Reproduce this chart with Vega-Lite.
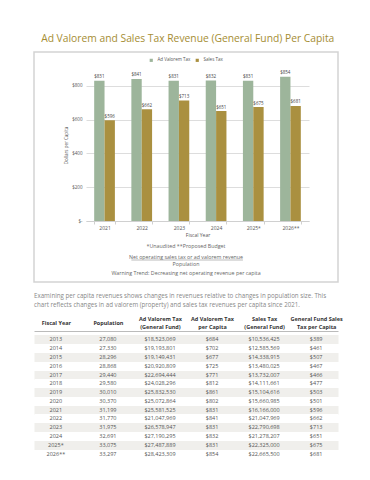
{
  "$schema": "https://vega.github.io/schema/vega-lite/v6.json",
  "padding": {"top": 33, "left": 33, "right": 33, "bottom": 5},
  "background": "white",
  "title": {"text": "Ad Valorem and Sales Tax Revenue (General Fund) Per Capita", "anchor": "middle", "fontSize": 10.3, "fontWeight": "normal", "color": "#a58d33", "offset": 7},
  "spacing": 10,
  "vconcat": [
    {
      "width": 304,
      "height": 230,
      "view": {"stroke": "#d3d3d3", "strokeWidth": 1.5},
      "layer": [
        {
          "data": {"values": [
            {"year": "2021", "tax": "Ad Valorem Tax", "value": 831},
            {"year": "2021", "tax": "Sales Tax", "value": 596},
            {"year": "2022", "tax": "Ad Valorem Tax", "value": 841},
            {"year": "2022", "tax": "Sales Tax", "value": 662},
            {"year": "2023", "tax": "Ad Valorem Tax", "value": 831},
            {"year": "2023", "tax": "Sales Tax", "value": 713},
            {"year": "2024", "tax": "Ad Valorem Tax", "value": 832},
            {"year": "2024", "tax": "Sales Tax", "value": 651},
            {"year": "2025*", "tax": "Ad Valorem Tax", "value": 831},
            {"year": "2025*", "tax": "Sales Tax", "value": 675},
            {"year": "2026**", "tax": "Ad Valorem Tax", "value": 854},
            {"year": "2026**", "tax": "Sales Tax", "value": 681}
          ]},
          "layer": [
            {
              "mark": {"type": "bar"},
              "encoding": {
                "x": {"field": "year", "type": "nominal", "sort": null,
                  "scale": {"range": [52, 275], "paddingInner": 0.443, "paddingOuter": 0.22},
                  "axis": {"title": "Fiscal Year", "offset": -61, "labelAngle": 0, "labelFontSize": 5, "labelColor": "#555", "tickBand": "extent", "tickSize": 3, "tickColor": "#d0d0d0", "domainColor": "#d0d0d0", "labelPadding": 1.5, "titleFontSize": 5, "titleFontWeight": "normal", "titleColor": "#555", "titlePadding": 2}},
                "xOffset": {"field": "tax", "type": "nominal", "sort": ["Ad Valorem Tax", "Sales Tax"]},
                "y": {"field": "value", "type": "quantitative",
                  "scale": {"domain": [0, 900], "range": [169, 17], "nice": false},
                  "axis": {"title": "Dollars per Capita", "offset": -52, "values": [0, 100, 200, 300, 400, 500, 600, 700, 800, 900], "labelExpr": "datum.value == 0 ? '$-' : '$' + datum.value", "labelOverlap": false, "labelFontSize": 4.5, "labelColor": "#555", "domain": false, "ticks": false, "grid": true, "gridColor": "#dddddd", "labelPadding": 4, "titleFontSize": 4.5, "titleFontWeight": "normal", "titleColor": "#555", "titlePadding": 3}},
                "color": {"field": "tax", "type": "nominal", "sort": ["Ad Valorem Tax", "Sales Tax"],
                  "scale": {"range": ["#9db59b", "#aa9040"]},
                  "legend": {"orient": "top", "title": null, "direction": "horizontal", "labelFontSize": 4.5, "labelColor": "#555", "symbolType": "square", "symbolSize": 10, "offset": -11, "columnPadding": 4, "symbolStrokeWidth": 0}}
              }
            },
            {
              "mark": {"type": "text", "dy": -3.5, "fontSize": 4.5, "color": "#444"},
              "encoding": {
                "x": {"field": "year", "type": "nominal", "sort": null},
                "xOffset": {"field": "tax", "type": "nominal", "sort": ["Ad Valorem Tax", "Sales Tax"]},
                "y": {"field": "value", "type": "quantitative",
                  "axis": {"title": "Dollars per Capita", "offset": -52, "values": [0, 100, 200, 300, 400, 500, 600, 700, 800, 900], "labelExpr": "datum.value == 0 ? '$-' : '$' + datum.value", "labelOverlap": false, "labelFontSize": 4.5, "labelColor": "#555", "domain": false, "ticks": false, "grid": true, "gridColor": "#dddddd", "labelPadding": 4, "titleFontSize": 4.5, "titleFontWeight": "normal", "titleColor": "#555", "titlePadding": 3}},
                "text": {"field": "value", "type": "quantitative", "format": "$,.0f"}
              }
            }
          ]
        },
        {
          "data": {"values": [{}]},
          "layer": [
            {
              "mark": {"type": "text", "text": "*Unaudited    **Proposed Budget", "fontSize": 5.3, "color": "#666", "baseline": "middle"},
              "encoding": {
                "y": {"datum": -148, "type": "quantitative",
                  "axis": {"title": "Dollars per Capita", "offset": -52, "values": [0, 100, 200, 300, 400, 500, 600, 700, 800, 900], "labelExpr": "datum.value == 0 ? '$-' : '$' + datum.value", "labelOverlap": false, "labelFontSize": 4.5, "labelColor": "#555", "domain": false, "ticks": false, "grid": true, "gridColor": "#dddddd", "labelPadding": 4, "titleFontSize": 4.5, "titleFontWeight": "normal", "titleColor": "#555", "titlePadding": 3}}
              }
            },
            {
              "mark": {"type": "text", "text": "Net operating sales tax or ad valorem revenue", "fontSize": 5.3, "color": "#666", "baseline": "middle"},
              "encoding": {
                "y": {"datum": -216, "type": "quantitative",
                  "axis": {"title": "Dollars per Capita", "offset": -52, "values": [0, 100, 200, 300, 400, 500, 600, 700, 800, 900], "labelExpr": "datum.value == 0 ? '$-' : '$' + datum.value", "labelOverlap": false, "labelFontSize": 4.5, "labelColor": "#555", "domain": false, "ticks": false, "grid": true, "gridColor": "#dddddd", "labelPadding": 4, "titleFontSize": 4.5, "titleFontWeight": "normal", "titleColor": "#555", "titlePadding": 3}}
              }
            },
            {
              "mark": {"type": "rule", "color": "#777", "strokeWidth": 0.5},
              "encoding": {
                "x": {"datum": "2022", "type": "nominal", "bandPosition": 0},
                "x2": {"datum": "2025*", "bandPosition": 0},
                "y": {"datum": -231, "type": "quantitative",
                  "axis": {"title": "Dollars per Capita", "offset": -52, "values": [0, 100, 200, 300, 400, 500, 600, 700, 800, 900], "labelExpr": "datum.value == 0 ? '$-' : '$' + datum.value", "labelOverlap": false, "labelFontSize": 4.5, "labelColor": "#555", "domain": false, "ticks": false, "grid": true, "gridColor": "#dddddd", "labelPadding": 4, "titleFontSize": 4.5, "titleFontWeight": "normal", "titleColor": "#555", "titlePadding": 3}}
              }
            },
            {
              "mark": {"type": "text", "text": "Population", "fontSize": 5.3, "color": "#666", "baseline": "middle"},
              "encoding": {
                "y": {"datum": -257, "type": "quantitative",
                  "axis": {"title": "Dollars per Capita", "offset": -52, "values": [0, 100, 200, 300, 400, 500, 600, 700, 800, 900], "labelExpr": "datum.value == 0 ? '$-' : '$' + datum.value", "labelOverlap": false, "labelFontSize": 4.5, "labelColor": "#555", "domain": false, "ticks": false, "grid": true, "gridColor": "#dddddd", "labelPadding": 4, "titleFontSize": 4.5, "titleFontWeight": "normal", "titleColor": "#555", "titlePadding": 3}}
              }
            },
            {
              "mark": {"type": "text", "text": "Warning Trend:  Decreasing net operating revenue per capita", "fontSize": 5.3, "color": "#666", "baseline": "middle"},
              "encoding": {
                "y": {"datum": -308, "type": "quantitative",
                  "axis": {"title": "Dollars per Capita", "offset": -52, "values": [0, 100, 200, 300, 400, 500, 600, 700, 800, 900], "labelExpr": "datum.value == 0 ? '$-' : '$' + datum.value", "labelOverlap": false, "labelFontSize": 4.5, "labelColor": "#555", "domain": false, "ticks": false, "grid": true, "gridColor": "#dddddd", "labelPadding": 4, "titleFontSize": 4.5, "titleFontWeight": "normal", "titleColor": "#555", "titlePadding": 3}}
              }
            }
          ]
        }
      ]
    },
    {
      "width": 304,
      "height": 123,
      "title": {"text": ["Examining per capita revenues shows changes in revenues relative to changes in population size. This", "chart reflects changes in ad valorem (property) and sales tax revenues per capita since 2021."], "anchor": "start", "fontSize": 6.2, "fontWeight": "normal", "color": "#888", "lineHeight": 9, "offset": 8, "frame": "group"},
      "data": {"values": [
        {"year": "2013", "pop": 27080, "av": 18523069, "avpc": 684, "sales": 10536425, "gfspc": 389},
        {"year": "2014", "pop": 27330, "av": 19193801, "avpc": 702, "sales": 12585569, "gfspc": 461},
        {"year": "2015", "pop": 28296, "av": 19149431, "avpc": 677, "sales": 14338915, "gfspc": 507},
        {"year": "2016", "pop": 28868, "av": 20920809, "avpc": 725, "sales": 13480025, "gfspc": 467},
        {"year": "2017", "pop": 29440, "av": 22694444, "avpc": 771, "sales": 13732007, "gfspc": 466},
        {"year": "2018", "pop": 29580, "av": 24028296, "avpc": 812, "sales": 14111661, "gfspc": 477},
        {"year": "2019", "pop": 30010, "av": 25832530, "avpc": 861, "sales": 15104616, "gfspc": 503},
        {"year": "2020", "pop": 30370, "av": 25072864, "avpc": 802, "sales": 15660985, "gfspc": 501},
        {"year": "2021", "pop": 31199, "av": 25581525, "avpc": 831, "sales": 16166000, "gfspc": 596},
        {"year": "2022", "pop": 31770, "av": 21047969, "avpc": 841, "sales": 21047969, "gfspc": 662},
        {"year": "2023", "pop": 31975, "av": 26578947, "avpc": 831, "sales": 22790698, "gfspc": 713},
        {"year": "2024", "pop": 32691, "av": 27190295, "avpc": 832, "sales": 21278207, "gfspc": 651},
        {"year": "2025*", "pop": 33075, "av": 27487889, "avpc": 831, "sales": 22325000, "gfspc": 675},
        {"year": "2026**", "pop": 33297, "av": 28423309, "avpc": 854, "sales": 22665500, "gfspc": 681}
      ]},
      "transform": [
        {"fold": ["year", "pop", "av", "avpc", "sales", "gfspc"], "as": ["key", "val"]},
        {"calculate": "datum.key == 'year' ? datum.val : (datum.key == 'pop' ? format(datum.val, ',') : '$' + format(datum.val, ','))", "as": "label"}
      ],
      "mark": {"type": "text", "fontSize": 5.5, "color": "#555", "baseline": "middle", "align": "center"},
      "encoding": {
        "x": {"field": "key", "type": "nominal",
          "scale": {"type": "point", "domain": ["year", "pop", "av", "avpc", "sales", "gfspc"], "padding": 0.42},
          "axis": {"orient": "top", "title": null, "labelAngle": 0, "ticks": false, "grid": false, "domainColor": "#bbb", "domainWidth": 1, "offset": 4, "labelFontSize": 5.5, "labelFontWeight": "bold", "labelColor": "#333", "labelLineHeight": 8, "labelBaseline": "bottom", "labelLimit": 0, "labelOverlap": false,
            "labelPadding": {"condition": {"test": "datum.value == 'year' || datum.value == 'pop'", "value": 5.5}, "value": 9.5},
            "labelExpr": "datum.value == 'year' ? 'Fiscal Year' : datum.value == 'pop' ? 'Population' : datum.value == 'av' ? ['Ad Valorem Tax', '(General Fund)'] : datum.value == 'avpc' ? ['Ad Valorem Tax', 'per Capita'] : datum.value == 'sales' ? ['Sales Tax', '(General Fund)'] : ['General Fund Sales', 'Tax per Capita']"}},
        "y": {"field": "year", "type": "ordinal",
          "scale": {"paddingInner": 0, "paddingOuter": 0},
          "axis": {"title": null, "labels": false, "ticks": false, "domain": false, "grid": true, "gridWidth": 8.8,
            "gridColor": {"condition": {"test": "indexof(['2013', '2015', '2017', '2019', '2021', '2023', '2025*'], datum.value) >= 0", "value": "#f0efec"}, "value": "#ffffff"}}},
        "text": {"field": "label", "type": "nominal"}
      }
    }
  ],
  "config": {
    "font": "Open Sans",
    "view": {"stroke": null},
    "axisY": {"labelOverlap": false},
    "axisQuantitative": {"tickCount": 9, "grid": true, "gridColor": "#dddddd"},
    "legend": {"layout": {"top": {"anchor": "middle"}}}
  }
}
